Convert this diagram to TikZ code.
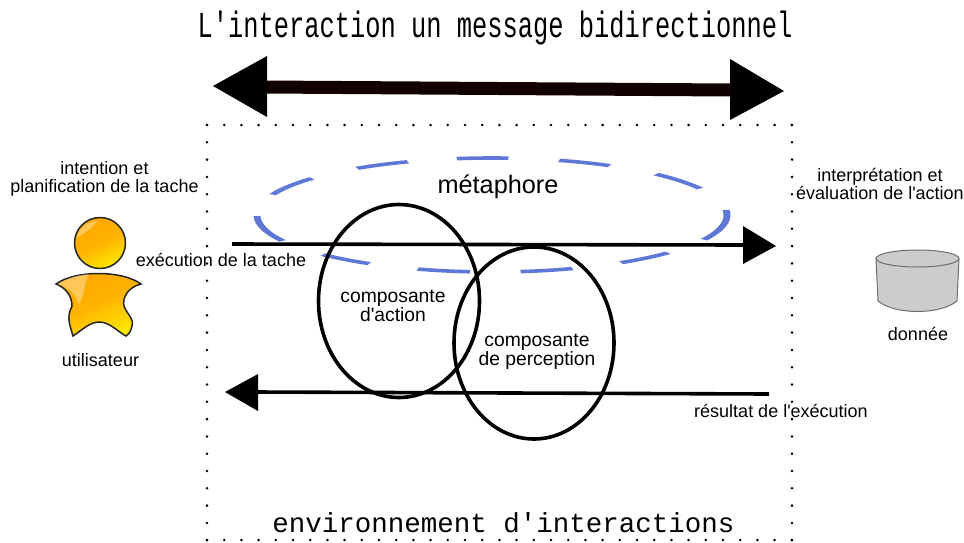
\documentclass[tikz,border=0pt]{standalone}
\usepackage{fontspec}
\setmainfont{Liberation Sans}[Ligatures=TeXOff]
\newfontfamily\monoface{Liberation Mono}[Ligatures=TeXOff]
\usetikzlibrary{shapes.geometric,shadings}
\definecolor{bluedash}{HTML}{5F78D8}
\definecolor{shaft}{HTML}{120000}
\definecolor{cylfill}{HTML}{CCCCCC}
\definecolor{cylline}{HTML}{6E6E6E}
\definecolor{persB}{HTML}{FFA600}
\definecolor{persM}{HTML}{FFB400}
\definecolor{persC}{HTML}{FFE600}
\tikzset{
  x=1pt,y=-1pt,
  lbl/.style={inner sep=0pt,align=center,font=\fontsize{18}{18}\selectfont,text=black},
  biglbl/.style={inner sep=0pt,align=center,font=\fontsize{19.3}{18.8}\selectfont,text=black},
  ring/.style={ellipse,draw=black,line width=3.6pt,inner sep=0pt,fill=none},
  head/.style={fill=black,draw=none},
  thin arrow/.style={draw=black,line width=3.6pt},
  persona/.style={draw=black!85,line width=1.5pt,top color=persC,bottom color=persB,middle color=persM,shading angle=205},
  gloss/.style={fill=white,opacity=.35,draw=none},
}
\begin{document}
\begin{tikzpicture}
\useasboundingbox (0,0) rectangle (964,542);
% dotted frame
\foreach \i in {0,...,34} {\fill (207+17.2*\i,125) circle (1.4);\fill (207+17.2*\i,540) circle (1.4);}
\foreach \i in {0,...,24} {\fill (207,125+17.3*\i) circle (1.4);\fill (792,125+17.3*\i) circle (1.4);}
% title
\node[inner sep=0pt] (title) at (495,28) {\monoface\scalebox{0.847}[1.22]{\fontsize{30}{30}\selectfont L'interaction un message bidirectionnel}};
\node[inner sep=0pt] (env) at (503.5,523) {\monoface\fontsize{27.5}{28}\selectfont environnement d'interactions};
% top double arrow
\coordinate (tl) at (265,87); \coordinate (tr) at (732,90);
\draw[shaft,line width=13pt] (tl) -- (tr);
\fill[head] (213,86) -- (267,56) -- (267,117) -- cycle;
\fill[head] (784,91) -- (730,59) -- (730,120) -- cycle;
% metaphor ellipse, dash by dash: the stroke is wider at the sides than at the top
\foreach \a/\b in {181/207,140/159,111/125,86/98.6,60/73.4,27.7/45.7,-25.6/5,-56.7/-41.5,-83/-70,-108.4/-95.4,-136/-121.5}
  \fill[bluedash] plot[domain=\a:\b,samples=24] ({492+238.5*cos(\x)},{215-58.8*sin(\x)})
     -- plot[domain=\b:\a,samples=24] ({492+231.5*cos(\x)},{215-55.2*sin(\x)}) -- cycle;
\node[inner sep=0pt,font=\fontsize{25.3}{26}\selectfont] (metalabel) at (498,187) {métaphore};
% arrows
\coordinate (a1) at (232,244); \coordinate (a2) at (745,245);
\draw[thin arrow] (a1) -- (a2);
\fill[head] (743,226) -- (776,246) -- (743,264) -- cycle;
\coordinate (b1) at (769,394); \coordinate (b2) at (256,392);
\draw[thin arrow] (b1) -- (b2);
\fill[head] (258,374) -- (225,392) -- (258,411) -- cycle;
% rings
\node[ring,minimum width=161pt,minimum height=193pt] (action) at (399,301) {};
\node[ring,minimum width=160pt,minimum height=192pt] (percep) at (534,343) {};
\node[biglbl] (actlabel) at (393,306) {composante\\d'action};
\node[biglbl] (perlabel) at (537,352) {composante\\de perception};
% labels
\node[lbl] (intent) at (104.5,178.5) {intention et\\planification de la tache};
\node[lbl] (exec) at (221,259.5) {exécution de la tache};
\node[lbl] (interp) at (880,184) {interprétation et\\évaluation de l'action};
\node[lbl] (result) at (781,411) {résultat de l'exécution};
\node[lbl] (user) at (100.5,360) {utilisateur};
\node[lbl] (data) at (918,334) {donnée};
% person
\draw[persona] (100,243) circle (25.5);
\draw[persona] (56,284) .. controls (75,270) and (122,270) .. (141,284)
  .. controls (128,287) and (122,298) .. (124,306)
  .. controls (128,316) and (134,318) .. (132,326)
  .. controls (131,331) and (129,334) .. (126,336)
  .. controls (118,332) and (110,322) .. (99,322)
  .. controls (90,322) and (82,330) .. (73,336)
  .. controls (70,325) and (66,318) .. (72,306)
  .. controls (72,296) and (66,288) .. (56,284) -- cycle;
\fill[gloss] (77,238) .. controls (78,228) and (88,221) .. (98,221) .. controls (92,228) and (86,232) .. (77,238) -- cycle;
\fill[gloss] (58,284) .. controls (66,279) and (76,275) .. (89,274) .. controls (84,284) and (84,296) .. (79,304) .. controls (74,292) and (68,288) .. (58,284) -- cycle;
% cylinder
\draw[cylline,fill=cylfill,line width=1pt] (876,259) -- (878,301) .. controls (895,315) and (940,315) .. (957,301) -- (959,259) -- cycle;
\draw[cylline,fill=cylfill,line width=1pt] (917.5,258.5) ellipse (41.5 and 8.5);
\end{tikzpicture}
\end{document}
